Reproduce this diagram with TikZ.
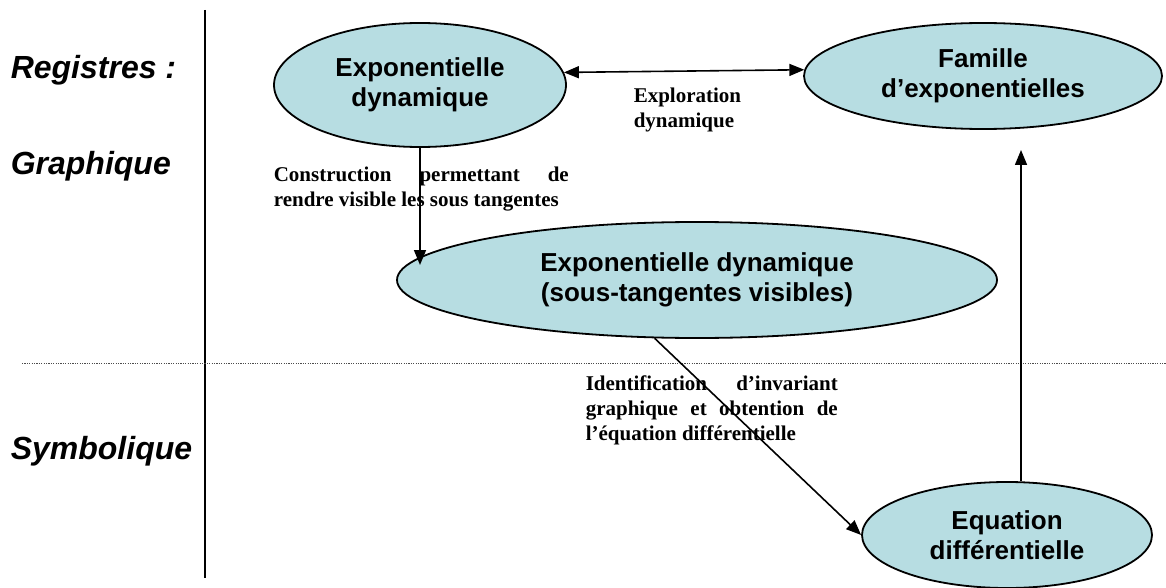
\documentclass[tikz,border=0pt]{standalone}
\usepackage{fontspec}
\setmainfont{Liberation Serif}
\setsansfont{Liberation Sans}
\usepackage{tikz}
\usetikzlibrary{arrows.meta,shapes,positioning}
\usepackage{xcolor}
\definecolor{bleuclair}{RGB}{183,221,226}

\begin{document}
\begin{tikzpicture}[x=1pt,y=-1pt,>={Triangle[length=15pt,width=12pt]},
                    line width=1.6pt]
  \tikzstyle{bulle}=[ellipse,draw=black,line width=1.8pt,fill=bleuclair,inner sep=0pt,
                     align=center,font=\sffamily\bfseries\fontsize{26}{30}\selectfont]
  \tikzstyle{registre}=[anchor=west,inner sep=0pt,font=\sffamily\bfseries\itshape\fontsize{32}{38}\selectfont]
  \tikzstyle{legende}=[anchor=north west,inner sep=0pt,font=\bfseries\fontsize{21}{25}\selectfont]

  \useasboundingbox (0,0) rectangle (1166,588);

  % registres
  \node[registre] (R) at (10,70)  {Registres :};
  \node[registre] (G) at (10,166) {Graphique};
  \node[registre] (S) at (10,451) {Symbolique};
  \draw (205,10) -- (205,578);
  \draw[black!70,line width=0.7pt,dash pattern=on 1.2pt off 1.2pt] (22,363) -- (1166,363);

  % les bulles
  \node[bulle,minimum width=292pt,minimum height=124pt] (A) at (420,85)  {Exponentielle\\dynamique};
  \node[bulle,minimum width=358pt,minimum height=106pt] (B) at (983,76)  {Famille\\d’exponentielles};
  \node[bulle,minimum width=600pt,minimum height=116pt] (C) at (697,280) {Exponentielle dynamique\\(sous-tangentes visibles)};
  \node[bulle,minimum width=290pt,minimum height=106pt] (D) at (1007,535) {Equation\\différentielle};

  % legendes
  \node[legende,text width=130pt,align=left] (L1) at (633,87) {Exploration\\dynamique};
  \node[legende,text width=295pt,align=justify] (L2) at (273,166)
       {Construction permettant de\linebreak rendre visible les sous tangentes};
  \node[legende,text width=252pt,align=justify] (L3) at (585,375)
       {Identification d’invariant\linebreak graphique et obtention de\linebreak l’équation différentielle};

  \coordinate (ct) at (420,265);
  \coordinate (bt) at (1021,150);

  \path (A.5) edge [<->] (B.178.5)
        (A) edge [->]  (ct)
        (C.234) edge [->] (D.west)
        (D.north -| bt) edge [->] (bt);
\end{tikzpicture}
\end{document}
